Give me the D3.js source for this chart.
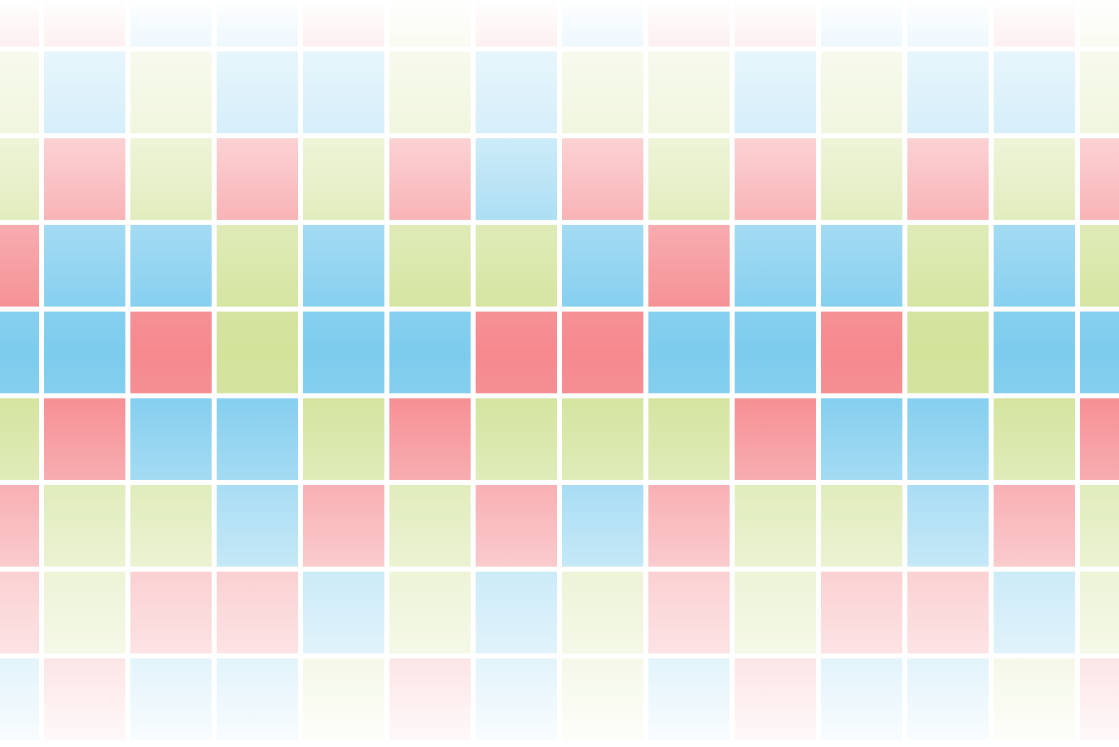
<!DOCTYPE html>
<html>
<head>
<meta charset="utf-8">
<script src="https://cdn.jsdelivr.net/npm/d3@7"></script>
<style>
	html, body { margin: 0; padding: 0; background: #fff; overflow: hidden; }
	svg { display: block; }
</style>
</head>
<body>
<svg id="chart"></svg>
<script>
// colour code of every tile, row by row (R = red, B = blue, G = green)
const rows = [
	'RRBBRGRBRRBBRG',
	'GBGBBGBGGBGBBG',
	'GRGRGRBRGRGRGR',
	'RBBGBGGBRBBGBG',
	'BBRGBBRRBBRGBB',
	'GRBBGRGGGRBBGR',
	'RGGBRGRBRGGBRG',
	'RGRRBGBGRGRRBG',
	'BRBBGRBGBRBBGR',
];
const categories = ['R', 'B', 'G'];
const palette = ['#f5898e', '#7dccee', '#d2e39a'];

// white veil: fade strength down the page (offset in px, opacity)
const fadeY = [0, 9, 46, 52, 133, 138, 219, 224, 306, 352, 398, 478, 482, 564, 568, 650, 658, 740, 747];
const fadeA = [1, 0.97, 0.87, 0.82, 0.68, 0.62, 0.36, 0.3, 0.08, 0, 0.06, 0.3, 0.33, 0.55, 0.6, 0.76, 0.78, 0.95, 0.97];

const width = 1119, height = 747;
const stepX = 86.33, stepY = 86.7, gap = 5;
const x0 = -42.3, y0 = -35.2;

const cells = [];
rows.forEach((r, ri) => {
	r.split('').forEach((c, ci) => cells.push({ row: ri, col: ci, cat: c }));
});

const svg = d3.select('#chart').attr('width', width).attr('height', height);

const nCols = rows[0].length;
const x = d3.scaleBand()
	.domain(d3.range(nCols))
	.range([x0 - gap / 2, x0 - gap / 2 + nCols * stepX])
	.paddingInner(gap / stepX)
	.paddingOuter(gap / stepX / 2);

const y = d3.scaleBand()
	.domain(d3.range(rows.length))
	.range([y0 - gap / 2, y0 - gap / 2 + rows.length * stepY])
	.paddingInner(gap / stepY)
	.paddingOuter(gap / stepY / 2);

const color = d3.scaleOrdinal().domain(categories).range(palette);

svg.append('rect')
	.attr('width', width)
	.attr('height', height)
	.attr('fill', '#fff');

svg.append('g')
	.selectAll('rect')
	.data(cells)
	.join('rect')
	.attr('x', (d) => x(d.col))
	.attr('y', (d) => y(d.row))
	.attr('width', x.bandwidth())
	.attr('height', y.bandwidth())
	.attr('fill', (d) => color(d.cat));

// vertical white fade over everything
const grad = svg.append('defs')
	.append('linearGradient')
	.attr('id', 'veil')
	.attr('gradientUnits', 'userSpaceOnUse')
	.attr('x1', 0).attr('x2', 0)
	.attr('y1', 0).attr('y2', height);

grad.selectAll('stop')
	.data(fadeY)
	.join('stop')
	.attr('offset', (d) => d / height)
	.attr('stop-color', '#fff')
	.attr('stop-opacity', (d, i) => fadeA[i]);

svg.append('rect')
	.attr('width', width)
	.attr('height', height)
	.attr('fill', 'url(#veil)');
</script>
</body>
</html>
